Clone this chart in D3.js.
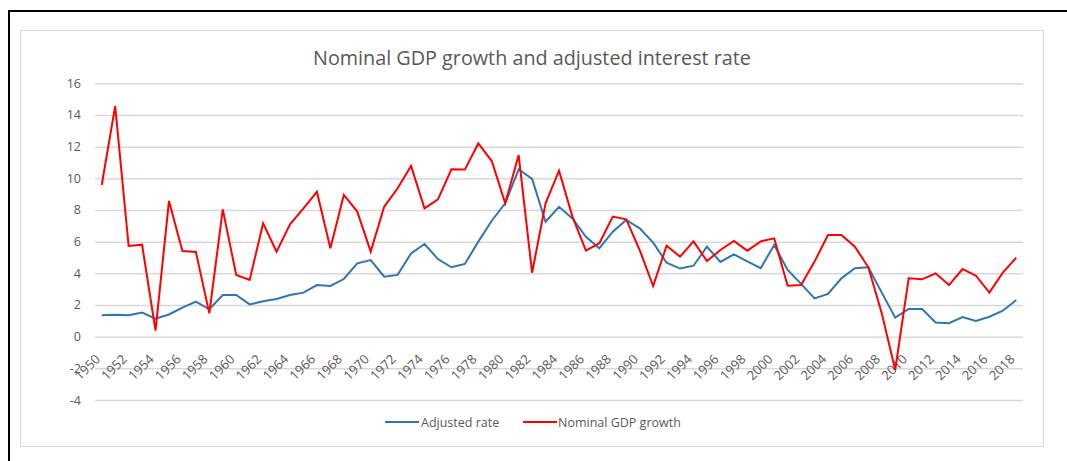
<!DOCTYPE html>
<html>
<head>
<meta charset="utf-8">
<script src="https://cdn.jsdelivr.net/npm/d3@7"></script>
<style>
  html, body { margin: 0; padding: 0; background: #ffffff; }
  svg { display: block; }
  text { font-family: "Open Sans", "Noto Sans", sans-serif; fill: #595959; }
</style>
</head>
<body>
<svg id="chart" width="1067" height="461"></svg>
<script>
const years = d3.range(1950, 2019);
const adjustedRate = [
  1.35, 1.38, 1.35, 1.52, 1.14, 1.40, 1.83, 2.21, 1.73, 2.63,
  2.63, 2.04, 2.23, 2.38, 2.63, 2.78, 3.26, 3.20, 3.64, 4.63,
  4.84, 3.79, 3.90, 5.26, 5.85, 4.90, 4.38, 4.59, 6.00, 7.32,
  8.42, 10.57, 9.96, 7.26, 8.20, 7.47, 6.31, 5.58, 6.63, 7.37,
  6.84, 5.94, 4.67, 4.30, 4.48, 5.68, 4.72, 5.20, 4.75, 4.33,
  5.79, 4.21, 3.33, 2.42, 2.70, 3.69, 4.32, 4.38, 2.78, 1.20,
  1.75, 1.75, 0.89, 0.85, 1.24, 0.99, 1.26, 1.64, 2.32
];
const nominalGDP = [
  9.58, 14.56, 5.73, 5.81, 0.38, 8.57, 5.41, 5.35, 1.47, 8.04,
  3.90, 3.58, 7.16, 5.37, 7.10, 8.10, 9.15, 5.58, 8.95, 7.90,
  5.37, 8.20, 9.37, 10.78, 8.10, 8.67, 10.57, 10.55, 12.20, 11.09,
  8.42, 11.47, 4.04, 8.42, 10.48, 7.58, 5.43, 5.90, 7.58, 7.41,
  5.47, 3.20, 5.75, 5.05, 6.02, 4.78, 5.47, 6.04, 5.43, 6.02,
  6.21, 3.22, 3.26, 4.74, 6.42, 6.42, 5.68, 4.38, 1.47, -2.10,
  3.69, 3.62, 4.00, 3.26, 4.27, 3.85, 2.78, 4.04, 4.99
];
const yTicks = [-4, -2, 0, 2, 4, 6, 8, 10, 12, 14, 16];
const xTickYears = years.filter(y => (y - 1950) % 2 === 0);
const seriesNames = ["Adjusted rate", "Nominal GDP growth"];
const titleText = "Nominal GDP growth and adjusted interest rate";

const svg = d3.select("#chart");

// outer black frame (top & left visible)
svg.append("line").attr("x1", 8).attr("x2", 1067).attr("y1", 11).attr("y2", 11)
  .attr("stroke", "#000").attr("stroke-width", 2);
svg.append("line").attr("x1", 9).attr("x2", 9).attr("y1", 10).attr("y2", 461)
  .attr("stroke", "#000").attr("stroke-width", 2);

// chart area frame
svg.append("rect").attr("x", 20.5).attr("y", 30.5).attr("width", 1023).attr("height", 416)
  .attr("fill", "#fff").attr("stroke", "#d9d9d9").attr("stroke-width", 1);

const x = d3.scaleBand().domain(years).range([95, 1023]).padding(0);
const y = d3.scaleLinear().domain([-4, 16]).range([400, 83.3]);
const cx = d => x(d) + x.bandwidth() / 2;

// gridlines via axis
const yAxis = d3.axisLeft(y).tickValues(yTicks).tickSize(-(1023 - 95)).tickPadding(14).tickFormat(d => String(d));
const gy = svg.append("g").attr("transform", "translate(95,0)").call(yAxis);
gy.select(".domain").remove();
gy.selectAll(".tick line").attr("stroke", "#d9d9d9").attr("stroke-width", 1.5);
gy.selectAll(".tick text").attr("font-size", 12.5).style("fill", "#595959")
  .style("font-family", "'Open Sans', sans-serif");

// x axis labels
const xAxis = d3.axisBottom(x).tickValues(xTickYears).tickSize(0).tickPadding(0);
const gx = svg.append("g").attr("transform", `translate(0,${y(0)})`).call(xAxis);
gx.select(".domain").remove();
gx.selectAll(".tick text")
  .attr("font-size", 13).style("fill", "#595959")
  .style("font-family", "'Open Sans', sans-serif")
  .attr("text-anchor", "end")
  .attr("dy", "0.35em")
  .attr("transform", "translate(-4,20) rotate(-45)");

// lines
const line = d3.line().x((d, i) => cx(years[i])).y(d => y(d));
const colors = ["#2e75b6", "#ff0000"];
[adjustedRate, nominalGDP].forEach((s, k) => {
  svg.append("path").datum(s).attr("d", line)
    .attr("fill", "none").attr("stroke", colors[k]).attr("stroke-width", 2)
    .attr("stroke-linejoin", "miter");
});

// title
const t = svg.append("text").attr("x", 532).attr("y", 65).attr("text-anchor", "middle")
  .attr("font-size", 19).style("fill", "#595959").text(titleText);
const tw = t.node().getComputedTextLength();
t.attr("font-size", 19 * 438 / tw);

// legend
const legendItems = [
  { name: seriesNames[0], color: colors[0], x0: 385, tx: 421 },
  { name: seriesNames[1], color: colors[1], x0: 523, tx: 558 }
];
legendItems.forEach(it => {
  svg.append("line").attr("x1", it.x0).attr("x2", it.x0 + 34).attr("y1", 422).attr("y2", 422)
    .attr("stroke", it.color).attr("stroke-width", 2);
  svg.append("text").attr("x", it.tx).attr("y", 426.5).attr("font-size", 12.5)
    .style("fill", "#595959").text(it.name);
});
</script>
</body>
</html>
